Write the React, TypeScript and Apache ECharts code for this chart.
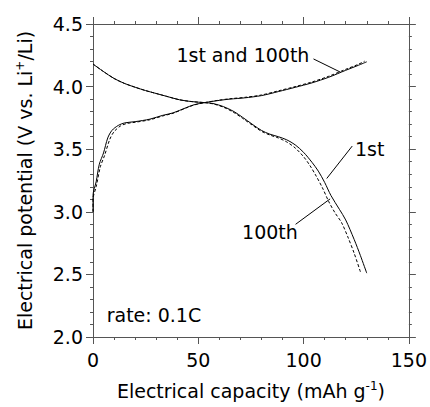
import React, { useEffect, useRef } from 'react';
import * as echarts from 'echarts';

// Electrical capacity (mAh g-1), Electrical potential (V vs. Li+/Li)
const charge1st: number[][] = [
  [0, 3.0], [0, 3.13], [1.5, 3.24], [3, 3.38], [5, 3.47], [7, 3.59], [9, 3.65], [12, 3.69],
  [15, 3.71], [20, 3.72], [27, 3.74], [33, 3.77], [38, 3.79], [44, 3.83], [48, 3.855],
  [53, 3.872], [60, 3.89], [65, 3.9], [72, 3.91], [80, 3.928], [88, 3.96], [96, 3.994],
  [104, 4.03], [112, 4.075], [120, 4.13], [126, 4.17], [130, 4.198],
];
const charge100th: number[][] = [
  [0, 3.0], [0, 3.1], [1.5, 3.2], [3.5, 3.36], [5.5, 3.45], [8, 3.58], [10, 3.64], [13, 3.685],
  [16, 3.705], [20, 3.715], [27, 3.735], [33, 3.765], [38, 3.787], [44, 3.828], [48, 3.853],
  [53, 3.872], [60, 3.892], [65, 3.903], [72, 3.914], [80, 3.933], [88, 3.966], [96, 4.0],
  [104, 4.037], [112, 4.083], [120, 4.138], [126, 4.178], [129, 4.203],
];
const discharge1st: number[][] = [
  [0, 4.18], [5, 4.12], [10, 4.065], [15, 4.025], [20, 3.995], [25, 3.968], [30, 3.945],
  [35, 3.922], [41, 3.895], [47, 3.88], [53, 3.872], [57, 3.865], [62, 3.84], [67, 3.8],
  [71, 3.755], [76, 3.695], [80, 3.65], [84, 3.62], [88, 3.6], [92, 3.575], [96, 3.535],
  [100, 3.475], [104, 3.395], [107, 3.325], [110, 3.235], [113, 3.13], [117, 3.02],
  [120, 2.935], [124, 2.78], [127, 2.65], [130, 2.51],
];
const discharge100th: number[][] = [
  [0, 4.18], [5, 4.12], [10, 4.065], [15, 4.025], [20, 3.995], [25, 3.968], [30, 3.945],
  [35, 3.922], [41, 3.895], [47, 3.88], [53, 3.872], [57, 3.862], [62, 3.835], [67, 3.792],
  [71, 3.747], [76, 3.688], [80, 3.643], [84, 3.613], [88, 3.59], [92, 3.558], [96, 3.51],
  [100, 3.44], [103, 3.37], [106, 3.285], [109, 3.19], [112, 3.08], [115, 2.99], [118, 2.915],
  [121, 2.8], [124, 2.67], [127.2, 2.51],
];

const xTitle = 'Electrical capacity (mAh g{sup|-1})';
const yTitle = 'Electrical potential (V vs. Li{sup|+}/Li)';

const labelTexts = ['1st and 100th', '1st', '100th', 'rate: 0.1C'];
const labelAt: number[][] = [[39.6, 4.256], [124.4, 3.5], [70.8, 2.84], [6.5, 2.173]];
const leaders: number[][][] = [
  [[104.7, 4.221], [117.3, 4.117]],
  [[123.1, 3.525], [111, 3.266]],
  [[96.2, 2.9], [112.6, 3.103]],
];

const FONT = 'DejaVu Sans';
const AXIS_COLOR = '#555';

export default function App() {
  const ref = useRef<HTMLDivElement>(null);
  useEffect(() => {
    const chart = echarts.init(ref.current!, null, { renderer: 'svg' });
    const axisCommon = {
      type: 'value',
      axisLine: { show: true, onZero: false, lineStyle: { color: AXIS_COLOR, width: 1 } },
      axisTick: { show: true, inside: false, length: 7, lineStyle: { color: AXIS_COLOR, width: 1 } },
      minorTick: { show: true, splitNumber: 5, length: 3, lineStyle: { color: AXIS_COLOR, width: 1 } },
      splitLine: { show: false },
      minorSplitLine: { show: false },
    };
    const lineSeries = (data: number[][], dashed: boolean) => ({
      type: 'line',
      data,
      showSymbol: false,
      smooth: 0.3,
      lineStyle: { color: '#000', width: 1, type: dashed ? [3, 2] : 'solid' },
      silent: true,
    });
    chart.setOption({
      animation: false,
      backgroundColor: '#fff',
      grid: { left: 93, top: 24, right: 19, bottom: 65, containLabel: false },
      xAxis: [
        {
          ...axisCommon,
          position: 'bottom',
          min: 0,
          max: 150,
          interval: 50,
          axisLabel: { show: true, color: '#000', fontSize: 19, fontFamily: FONT, margin: 13 },
          name: xTitle,
          nameLocation: 'middle',
          nameGap: 43,
          nameTextStyle: {
            color: '#000', fontSize: 19, fontFamily: FONT, lineHeight: 22,
            rich: { sup: { fontSize: 12, fontFamily: FONT, color: '#000', lineHeight: 12, verticalAlign: 'top' } },
          },
        },
        {
          ...axisCommon,
          position: 'top',
          min: 0,
          max: 150,
          interval: 50,
          axisLabel: { show: false },
        },
      ],
      yAxis: [
        {
          ...axisCommon,
          position: 'left',
          min: 2,
          max: 4.5,
          interval: 0.5,
          axisLabel: {
            show: true, color: '#000', fontSize: 19, fontFamily: FONT, margin: 10,
            formatter: (v: number) => v.toFixed(1),
          },
          name: yTitle,
          nameLocation: 'middle',
          nameGap: 57,
          nameTextStyle: {
            color: '#000', fontSize: 19, fontFamily: FONT, lineHeight: 22,
            rich: { sup: { fontSize: 12, fontFamily: FONT, color: '#000', lineHeight: 12, verticalAlign: 'top' } },
          },
        },
        {
          ...axisCommon,
          position: 'right',
          min: 2,
          max: 4.5,
          interval: 0.5,
          axisLabel: { show: false },
        },
      ],
      series: [
        lineSeries(charge1st, false),
        lineSeries(charge100th, true),
        lineSeries(discharge1st, false),
        lineSeries(discharge100th, true),
      ],
    });

    const px = (v: number[]) => chart.convertToPixel({ seriesIndex: 0 }, v) as number[];
    const graphics: any[] = [];
    leaders.forEach((seg) => {
      const a = px(seg[0]);
      const b = px(seg[1]);
      graphics.push({
        type: 'line',
        shape: { x1: a[0], y1: a[1], x2: b[0], y2: b[1] },
        style: { stroke: '#000', lineWidth: 1 },
        silent: true,
      });
    });
    labelTexts.forEach((t, i) => {
      const p = px(labelAt[i]);
      graphics.push({
        type: 'text',
        x: p[0],
        y: p[1],
        style: {
          text: t, fill: '#000', fontSize: 19, fontFamily: FONT,
          align: 'left', verticalAlign: 'middle',
        },
        silent: true,
      });
    });
    chart.setOption({ graphic: graphics });

    return () => chart.dispose();
  }, []);
  return <div ref={ref} style={{ position: 'absolute', left: 0, top: 0, width: 430, height: 407 }} />;
}
